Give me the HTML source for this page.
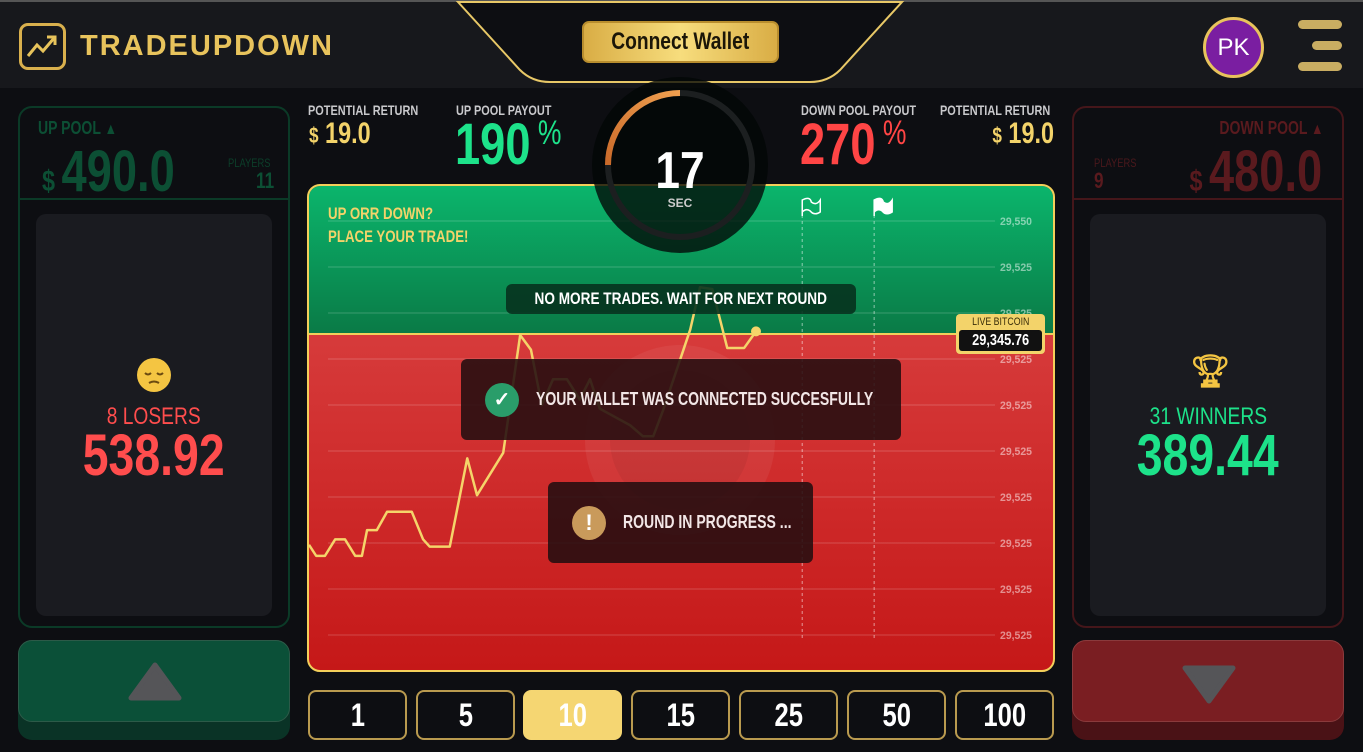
<!DOCTYPE html>
<html><head><meta charset="utf-8">
<style>
*{margin:0;padding:0;box-sizing:border-box}
body{width:1363px;height:752px;background:#0d0e12;overflow:hidden;position:relative;font-family:"Liberation Sans",sans-serif;font-weight:bold}
.abs{position:absolute}
.n{display:inline-block;transform:scaleX(.78);transform-origin:left center;white-space:nowrap}
.nc{display:inline-block;transform:scaleX(.8);transform-origin:center;white-space:nowrap}
.nr{display:inline-block;transform:scaleX(.78);transform-origin:right center;white-space:nowrap}
.lbl{font-size:14px;color:#c9c9cc;white-space:nowrap}
.btn{position:absolute;top:690px;width:99px;height:50px;border:2px solid #b99a4f;border-radius:8px;background:#0d0e12;color:#fff;font-size:32px;display:flex;align-items:center;justify-content:center}
</style></head><body>
<div class="abs" style="left:0;top:0;width:1363px;height:88px;background:#17181c;border-top:2px solid #555"></div>
<svg class="abs" style="left:0;top:0" width="1363" height="752">
<path d="M458,2 L520,70 Q532,82 550,82 L810,82 Q828,82 840,70 L902,2 Z" fill="#0d0e12" stroke="#e8c867" stroke-width="2"/>
</svg>
<div class="abs" style="left:19px;top:23px;width:47px;height:47px;border:3px solid #d9b04d;border-radius:9px">
<svg width="41" height="41"><polyline points="6,30 15,19 21,25 33,11" fill="none" stroke="#e7c35b" stroke-width="3"/><polyline points="25,11 33,11 33,19" fill="none" stroke="#e7c35b" stroke-width="3"/></svg></div>
<div class="abs" style="left:80px;top:30px;font-size:29px;letter-spacing:2px;color:#e8c35c">TRADEUPDOWN</div>
<div class="abs" style="left:582px;top:21px;width:197px;height:42px;border-radius:7px;background:linear-gradient(90deg,#d9ad45,#f7dd7d,#d9ad45);border:2px solid #b88d2e;color:#1b1608;font-size:24px;display:flex;align-items:center;justify-content:center"><span class="nc">Connect Wallet</span></div>
<div class="abs" style="left:1203px;top:17px;width:61px;height:61px;border-radius:50%;background:#7a1ea1;border:3px solid #e8c35c;color:#fff;font-size:24px;display:flex;align-items:center;justify-content:center;font-weight:normal">PK</div>
<div class="abs" style="left:1298px;top:20px;width:44px;height:50px">
<div class="abs" style="left:0;top:0;width:44px;height:9px;border-radius:5px;background:#c9ad62"></div>
<div class="abs" style="left:14px;top:21px;width:30px;height:9px;border-radius:5px;background:#c9ad62"></div>
<div class="abs" style="left:0;top:42px;width:44px;height:9px;border-radius:5px;background:#c9ad62"></div></div>

<!-- Left panel -->
<div class="abs" style="left:18px;top:106px;width:272px;height:522px;border:2px solid #0b3a27;border-radius:14px">
<div class="abs" style="left:0;top:90px;width:268px;height:2px;background:#0b3a27"></div>
<div class="abs" style="left:18px;top:10px;font-size:18px;color:#0c4f34"><span class="n">UP POOL <span style="font-size:16px">▲</span></span></div>
<div class="abs" style="left:22px;top:30px;font-size:58px;color:#0c4f34"><span class="n"><span style="font-size:30px">$ </span>490.0</span></div>
<div class="abs" style="left:208px;top:48px;font-size:12px;color:#0c3f2a;font-weight:normal"><span class="n">PLAYERS</span></div>
<div class="abs" style="left:236px;top:60px;font-size:22px;color:#0c4f34"><span class="n">11</span></div>
<div class="abs" style="left:16px;top:106px;width:236px;height:402px;background:#1a1b20;border-radius:10px"></div>
</div>
<svg class="abs" style="left:137px;top:358px" width="34" height="34">
<circle cx="17" cy="17" r="17" fill="#f4c542"/><path d="M8,15 Q11,18 14,15 M20,15 Q23,18 26,15" stroke="#6b4a10" stroke-width="2" fill="none"/><path d="M12,25 Q17,22 22,25" stroke="#6b4a10" stroke-width="2" fill="none"/></svg>
<div class="abs" style="left:18px;width:272px;top:403px;text-align:center;font-size:24px;color:#ff4d4d;font-weight:normal"><span class="nc">8 LOSERS</span></div>
<div class="abs" style="left:18px;width:272px;top:422px;text-align:center;font-size:58px;color:#ff4d4d"><span class="nc">538.92</span></div>
<div class="abs" style="left:18px;top:640px;width:272px;height:100px;border-radius:14px;background:#0a3326">
<div class="abs" style="left:0;top:0;width:272px;height:82px;border-radius:14px;background:#0b5038;border:1px solid #2c5a48"></div>
<svg class="abs" style="left:110px;top:22px" width="54" height="42"><polygon points="27,3 51,36 3,36" fill="#555558" stroke="#555558" stroke-width="5" stroke-linejoin="round"/></svg></div>

<!-- Right panel -->
<div class="abs" style="left:1072px;top:106px;width:272px;height:522px;border:2px solid #45161a;border-radius:14px">
<div class="abs" style="left:0;top:90px;width:268px;height:2px;background:#45161a"></div>
<div class="abs" style="right:18px;top:10px;font-size:18px;color:#5a1a1e"><span class="nr">DOWN POOL <span style="font-size:16px">▲</span></span></div>
<div class="abs" style="right:20px;top:30px;font-size:58px;color:#5a1a1e"><span class="nr"><span style="font-size:30px">$ </span>480.0</span></div>
<div class="abs" style="left:20px;top:48px;font-size:12px;color:#4a181c;font-weight:normal"><span class="n">PLAYERS</span></div>
<div class="abs" style="left:20px;top:60px;font-size:22px;color:#5a1a1e"><span class="n">9</span></div>
<div class="abs" style="left:16px;top:106px;width:236px;height:402px;background:#1a1b20;border-radius:10px"></div>
</div>
<div class="abs" style="left:1190px;top:352px;font-size:32px;color:#f4c542;font-family:'DejaVu Sans',sans-serif">🏆︎</div>
<div class="abs" style="left:1072px;width:272px;top:403px;text-align:center;font-size:24px;color:#1de28a;font-weight:normal"><span class="nc">31 WINNERS</span></div>
<div class="abs" style="left:1072px;width:272px;top:422px;text-align:center;font-size:58px;color:#1de28a"><span class="nc">389.44</span></div>
<div class="abs" style="left:1072px;top:640px;width:272px;height:100px;border-radius:14px;background:#4a1216">
<div class="abs" style="left:0;top:0;width:272px;height:82px;border-radius:14px;background:#7a1e22;border:1px solid #8a3a3c"></div>
<svg class="abs" style="left:110px;top:22px" width="54" height="42"><polygon points="3,6 51,6 27,39" fill="#555558" stroke="#555558" stroke-width="5" stroke-linejoin="round"/></svg></div>

<!-- Stats -->
<div class="abs lbl" style="left:308px;top:102px"><span class="n">POTENTIAL RETURN</span></div>
<div class="abs" style="left:309px;top:117px;font-size:30px;color:#f3d36a"><span class="n"><span style="font-size:22px">$</span> 19.0</span></div>
<div class="abs lbl" style="left:456px;top:102px"><span class="n">UP POOL PAYOUT</span></div>
<div class="abs" style="left:455px;top:116px;font-size:58px;color:#1de28a;line-height:1"><span class="n">190<span style="font-size:34px;font-weight:normal;vertical-align:top"> %</span></span></div>
<div class="abs lbl" style="left:801px;top:102px"><span class="n">DOWN POOL PAYOUT</span></div>
<div class="abs" style="left:800px;top:116px;font-size:58px;color:#ff4545;line-height:1"><span class="n">270<span style="font-size:34px;font-weight:normal;vertical-align:top"> %</span></span></div>
<div class="abs lbl" style="left:940px;top:102px"><span class="n">POTENTIAL RETURN</span></div>
<div class="abs" style="right:309px;top:117px;font-size:30px;color:#f3d36a"><span class="nr"><span style="font-size:22px">$</span> 19.0</span></div>

<!-- Chart -->
<div class="abs" style="left:307px;top:184px;width:748px;height:488px;border:2px solid #f3cf5a;border-radius:13px;overflow:hidden;background:linear-gradient(180deg,#de4a4a 0%,#c51818 100%)">
<div class="abs" style="left:0;top:0;width:748px;height:148px;background:linear-gradient(180deg,#0bb56c,#0a7a46)"></div>
<div class="abs" style="left:0;top:147px;width:748px;height:2px;background:#f3cf5a"></div>
</div>
<svg class="abs" style="left:0;top:0" width="1363" height="752" id="chart"></svg>
<div class="abs" style="left:328px;top:202px;font-size:17px;line-height:23px;color:#f3d36a"><span class="n">UP ORR DOWN?<br>PLACE YOUR TRADE!</span></div>

<!-- Timer -->
<svg class="abs" style="left:0;top:0" width="1363" height="752">
<circle cx="680" cy="165" r="88" fill="rgba(2,6,5,0.78)"/>
<circle cx="680" cy="165" r="72" fill="none" stroke="#1c1f20" stroke-width="6"/>
<defs><linearGradient id="og" x1="0" y1="1" x2="1" y2="0"><stop offset="0" stop-color="#c96a2a"/><stop offset="1" stop-color="#f0a050"/></linearGradient></defs>
<path d="M608,165 A72,72 0 0 1 680,93" fill="none" stroke="url(#og)" stroke-width="6"/>
<text x="680" y="188" text-anchor="middle" fill="#fff" font-size="52" font-weight="bold" font-family="Liberation Sans, sans-serif" transform="translate(680 0) scale(0.85 1) translate(-680 0)">17</text>
<text x="680" y="207" text-anchor="middle" fill="#ccc" font-size="12" font-weight="bold" font-family="Liberation Sans, sans-serif">SEC</text>
</svg>

<!-- Overlays -->
<div class="abs" style="left:506px;top:284px;width:350px;height:30px;background:rgba(6,50,30,0.9);border-radius:6px;color:#fff;font-size:17px;display:flex;align-items:center;justify-content:center"><span class="nc">NO MORE TRADES. WAIT FOR NEXT ROUND</span></div>
<div class="abs" style="left:461px;top:359px;width:440px;height:81px;background:rgba(35,14,16,0.88);border-radius:6px;color:#f2e6e6;font-size:18px;display:flex;align-items:center">
<div style="margin-left:24px;width:34px;height:34px;border-radius:50%;background:#2a9d6a;color:#fff;font-size:20px;text-align:center;line-height:34px;flex:none">✓</div>
<span class="n" style="margin-left:17px">YOUR WALLET WAS CONNECTED SUCCESFULLY</span></div>
<div class="abs" style="left:548px;top:482px;width:265px;height:81px;background:rgba(35,14,16,0.88);border-radius:6px;color:#f2e6e6;font-size:18px;display:flex;align-items:center">
<div style="margin-left:24px;width:34px;height:34px;border-radius:50%;background:#c99a5b;color:#fff;font-size:22px;text-align:center;line-height:34px;flex:none">!</div>
<span class="n" style="margin-left:17px">ROUND IN PROGRESS ...</span></div>
<div class="abs" style="left:956px;top:314px;width:89px;height:40px;background:#f3d36a;border-radius:4px">
<div style="text-align:center;font-size:11px;color:#3a2e0a;font-weight:normal;margin-top:2px"><span class="nc">LIVE BITCOIN</span></div>
<div class="abs" style="left:3px;top:16px;width:83px;height:21px;background:#111;border-radius:3px;color:#fff;font-size:16px;text-align:center;line-height:21px"><span class="nc">29,345.76</span></div></div>

<!-- Amount buttons -->
<div class="btn" style="left:308px"><span class="nc">1</span></div>
<div class="btn" style="left:416px"><span class="nc">5</span></div>
<div class="btn" style="left:523px;background:#f5d672;border-color:#f5d672"><span class="nc">10</span></div>
<div class="btn" style="left:631px"><span class="nc">15</span></div>
<div class="btn" style="left:739px"><span class="nc">25</span></div>
<div class="btn" style="left:847px"><span class="nc">50</span></div>
<div class="btn" style="left:955px"><span class="nc">100</span></div>

<script>
const times=[0,1.4,3.1,5.1,7,9,10.3,11.3,13.2,15.2,20,22.2,23.5,27.4,30.8,32.7,37.8,41.1,43.2,45.3,47.5,50.2,52.7,54.7,56.6,62.5,65,67,68.9,74.2,76.1,78.5,81.4,84.7,87];
const prices=[29374,29368,29368,29377,29377,29368,29368,29382,29382,29392,29392,29377,29373,29373,29421,29401,29424,29488,29480,29450,29464,29464,29453,29464,29448,29439,29433,29433,29447,29491,29514,29513,29481,29481,29490];
const tickValues=[29550,29525,29500,29475,29450,29425,29400,29375,29350,29325];
const tickLabels=["29,550","29,525","29,525","29,525","29,525","29,525","29,525","29,525","29,525","29,525"];
const markerTimes=[96,110];
const NS="http://www.w3.org/2000/svg";
const svg=document.getElementById('chart');
function xs(t){return 309+(t/145)*745;}
function ys(v){return 221+(29550-v)*46/25;}
function mk(tag,attrs){const e=document.createElementNS(NS,tag);for(const k in attrs)e.setAttribute(k,attrs[k]);svg.appendChild(e);return e;}
const wm=mk('circle',{cx:680,cy:440,r:95,fill:'rgba(255,255,255,0.06)'});


const wm2=mk('circle',{cx:680,cy:440,r:70,fill:'rgba(0,0,0,0.05)'});


tickValues.forEach((v,i)=>{
  const y=ys(v);
  const g=mk('line',{x1:328,x2:995,y1:y,y2:y,stroke:'rgba(255,255,255,0.2)','stroke-width':1});
  
  
  const t=mk('text',{x:1000,y:y+4,fill:'rgba(255,255,255,0.5)','font-size':11,'font-family':'Liberation Sans, sans-serif',textLength:32,lengthAdjust:'spacingAndGlyphs'});
  t.textContent=tickLabels[i];
  
  
});
markerTimes.forEach((m,i)=>{
  const x=xs(m);
  const l=mk('line',{x1:x,x2:x,y1:215,y2:640,stroke:'rgba(255,255,255,0.45)','stroke-width':1.2,'stroke-dasharray':'3,3'});
  
  
  const f=mk('path',{d:`M${x},216 L${x},200 Q${x+8},196 ${x+9},202 Q${x+14},206 ${x+18},200 L${x+18},212 Q${x+12},216 ${x+8},211 Q${x+4},208 ${x},212`,fill:i==0?'none':'#fff',stroke:'#fff','stroke-width':1.5});
  
  
});
const pts=times.map((t,i)=>xs(t)+','+ys(prices[i])).join(' ');
const pl=mk('polyline',{points:pts,fill:'none',stroke:'#f5d46a','stroke-width':2.5,'stroke-linejoin':'round'});


const last=times.length-1;
const dot=mk('circle',{cx:xs(times[last]),cy:ys(prices[last]),r:5,fill:'#f5d46a'});


</script>
</body></html>
